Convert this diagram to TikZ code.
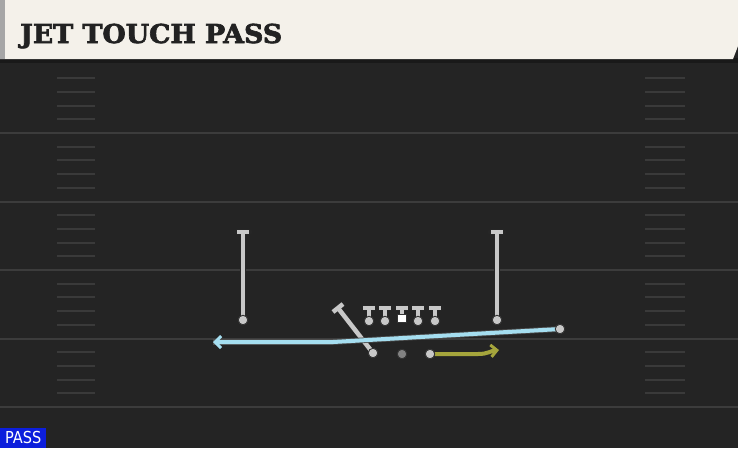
\documentclass[tikz,border=0pt]{standalone}
\usepackage{fontspec}
\usetikzlibrary{arrows.meta,calc}
\newfontfamily\titlefont{DejaVu Serif}[BoldFeatures={FakeBold=2.5}]
\newfontfamily\labelfont{DejaVu Sans}
\definecolor{field}{RGB}{36,36,36}
\definecolor{yardline}{RGB}{60,60,60}
\definecolor{hash}{RGB}{58,58,58}
\definecolor{cream}{RGB}{244,241,234}
\definecolor{titleink}{RGB}{34,34,34}
\definecolor{plgray}{RGB}{200,200,200}
\definecolor{dotgray}{RGB}{130,130,130}
\definecolor{routeblue}{RGB}{165,222,240}
\definecolor{routeyellow}{RGB}{165,165,60}
\definecolor{passblue}{RGB}{12,30,220}
\tikzset{
  x=1pt, y=-1pt,
  yard/.style={draw=yardline, line width=2pt},
  hashmark/.style={draw=hash, line width=2pt},
  pshadow/.style={draw=black!85, line width=6.5pt, line cap=round},
  pline/.style={draw=plgray, line width=4.5pt, line cap=butt},
  pdot/.style={circle, fill=plgray, draw=black!80, line width=0.9pt, inner sep=0pt, minimum size=9.5pt},
  gdot/.style={circle, fill=dotgray, draw=black!80, line width=0.9pt, inner sep=0pt, minimum size=9.5pt},
  tbar/.style={draw=plgray, line width=4.5pt},
  routetip/.style={-{Straight Barb[length=6pt,width=12pt,line width=3pt]}},
  blueroute/.style={draw=routeblue, line width=4pt, routetip},
  yellowroute/.style={draw=routeyellow, line width=4pt, routetip},
}
\begin{document}
\begin{tikzpicture}
\useasboundingbox (0,0) rectangle (738,448);
\fill[field] (0,0) rectangle (738,448);
% yard lines
\foreach \y in {133,201.5,270,338.5,407} {
  \draw[yard] (0,\y) -- (738,\y);
}
% hash marks
\foreach \b in {64.5,133,201.5,270,338.5} {
  \foreach \k in {1,2,3,4} {
    \draw[hashmark] (57,\b+13.7*\k) -- (95,\b+13.7*\k);
    \draw[hashmark] (645,\b+13.7*\k) -- (685,\b+13.7*\k);
  }
}
% header
\fill[black!90] (0,58) rectangle (738,63);
\fill[cream] (0,0) -- (738,0) -- (738,46) -- (733,59) -- (0,59) -- cycle;
\fill[black!35] (0,0) rectangle (5,59);
\node[anchor=base west, inner sep=0pt, text=titleink, font=\titlefont\bfseries\fontsize{26}{28}\selectfont, xscale=1.03] (title) at (20,43) {JET TOUCH PASS};
% PASS label
\node[anchor=south west, fill=passblue, text=white, inner sep=0pt, minimum width=46pt, minimum height=20pt] (passlbl) at (0,448) {};
\node[text=white, inner sep=0pt, font=\labelfont\fontsize{16.5}{17}\selectfont, xscale=0.88] (passtxt) at (passlbl.center) {PASS};

% ---- players ----
\coordinate (lwtop) at (243,232);
\node[pdot] (lw) at (243,320) {};
\coordinate (rwtop) at (497,232);
\node[pdot] (rw) at (497,320) {};
\coordinate (sltop) at (338,308);
\node[pdot] (sl) at (373,353) {};
% shadows
\draw[pshadow] (lwtop) -- (lw.center);
\draw[pshadow] (rwtop) -- (rw.center);
\draw[pshadow] (sltop) -- (sl.center);
\draw[pshadow] (237,232) -- (249,232);
\draw[pshadow] (491,232) -- (503,232);
\draw[pshadow] ($(sltop)+(-5,4)$) -- ($(sltop)+(5,-4)$);
\foreach \x in {369,385,418,435} {
  \draw[pshadow] (\x,308) -- (\x,321);
  \draw[pshadow] (\x-6,308) -- (\x+6,308);
}
\draw[pshadow] (396,308) -- (408,308);
\draw[pshadow] (402,308) -- (402,316);
% gray lines
\draw[pline] (lwtop) -- (lw.center);
\draw[pline] (rwtop) -- (rw.center);
\draw[pline] (sltop) -- (sl.center);
\draw[tbar] (237,232) -- (249,232);
\draw[tbar] (491,232) -- (503,232);
\draw[tbar] ($(sltop)+(-5,4)$) -- ($(sltop)+(5,-4)$);
\foreach \n/\x in {lt/369,lg/385,rg/418,rt/435} {
  \draw[pline] (\x,308) -- (\x,321);
  \draw[tbar] (\x-6,308) -- (\x+6,308);
  \node[pdot] (\n) at (\x,321) {};
}
\draw[tbar] (396,308) -- (408,308);
\draw[pline] (402,308) -- (402,315);
\node[fill=white, draw=black!80, line width=0.6pt, minimum size=8.5pt, inner sep=0pt] (c) at (402,318.5) {};
\node[pdot] (lw2) at (243,320) {};
\node[pdot] (rw2) at (497,320) {};

% backs
\node[gdot] (qb) at (402,354) {};
\node[gdot] (rb) at (430,354) {};
% jet motion route (blue)
\node[pdot] (jet) at (560,329) {};
\coordinate (bend) at (333,342);
\coordinate (bluend) at (213,342);
\draw[draw=black!70, line width=5.6pt] (jet.center) -- (bend) -- (bluend);
\draw[blueroute] (jet.center) -- (bend) -- (bluend);
\node[pdot] (jet2) at (560,329) {};
% RB route (yellow)
\coordinate (yend) at (499,350);
\draw[yellowroute] (rb.east) -- (478,354) .. controls (488,354) and (490,351) .. (yend);
\node[pdot] (rb2) at (430,354) {};
\node[pdot] (sl2) at (373,353) {};
\end{tikzpicture}
\end{document}
